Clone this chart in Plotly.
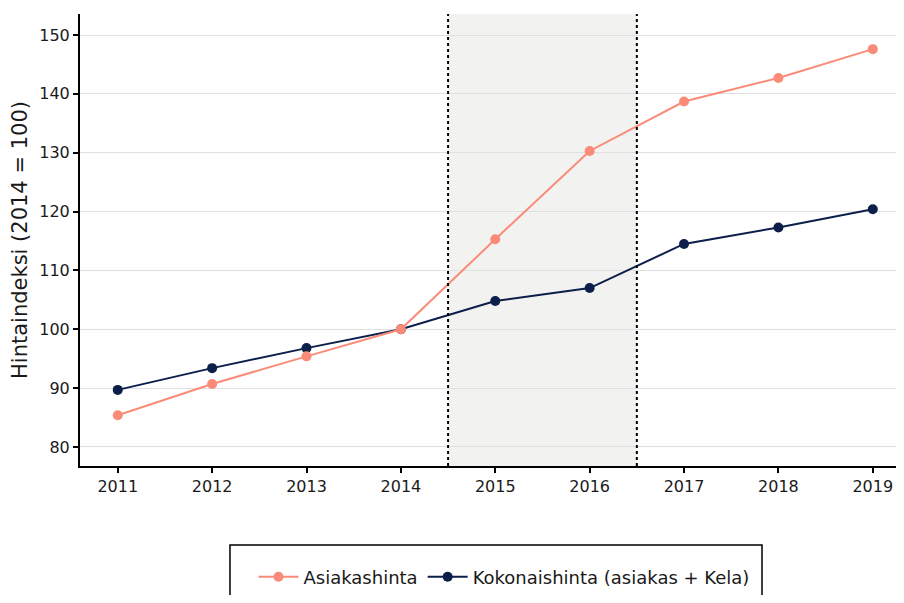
import plotly.graph_objects as go

years = [2011, 2012, 2013, 2014, 2015, 2016, 2017, 2018, 2019]
asiakashinta = [85.4, 90.7, 95.4, 100.0, 115.3, 130.3, 138.7, 142.7, 147.6]
kokonaishinta = [89.7, 93.4, 96.8, 100.0, 104.8, 107.0, 114.5, 117.3, 120.4]
series_names = ["Asiakashinta", "Kokonaishinta (asiakas + Kela)"]
y_ticks = [80, 90, 100, 110, 120, 130, 140, 150]
shade_start, shade_end = 2014.5, 2016.5

CORAL = "#FA8B78"
NAVY = "#0C1E4A"
FONT = "DejaVu Sans"

fig = go.Figure()
fig.add_trace(go.Scatter(
    x=years, y=kokonaishinta, name=series_names[1], mode="lines+markers",
    line=dict(color=NAVY, width=2), marker=dict(color=NAVY, size=10),
    legendrank=2))
fig.add_trace(go.Scatter(
    x=years, y=asiakashinta, name=series_names[0], mode="lines+markers",
    line=dict(color=CORAL, width=2), marker=dict(color=CORAL, size=10),
    legendrank=1))

fig.add_shape(type="rect", xref="x", yref="paper", x0=shade_start, x1=shade_end,
              y0=0, y1=1, fillcolor="#F2F2F0", line=dict(width=0), layer="below")
for xv in (shade_start, shade_end):
    fig.add_shape(type="line", xref="x", yref="paper", x0=xv, x1=xv, y0=0, y1=1,
                  line=dict(color="black", width=2, dash="dot"), layer="above")

# legend frame
fig.add_shape(type="rect", xref="paper", yref="paper", x0=0.1838, x1=0.8358,
              y0=-0.1748, y1=-0.34, line=dict(color="black", width=1.5),
              fillcolor="rgba(0,0,0,0)")

fig.update_layout(
    width=888, height=587,
    margin=dict(l=72, r=0, t=6, b=129, autoexpand=False),
    plot_bgcolor="white", paper_bgcolor="white",
    font=dict(family=FONT, size=16, color="#1a1a1a"),
    showlegend=True,
    legend=dict(orientation="h", x=0.5196, xanchor="center", y=-0.2456,
                yanchor="middle", font=dict(size=18, family=FONT), itemwidth=40,
                bgcolor="rgba(0,0,0,0)", traceorder="normal"),
    xaxis=dict(range=[2010.6, 2019.246], tickvals=years, ticktext=[str(y) for y in years],
               showgrid=False, zeroline=False, showline=True, linecolor="black",
               linewidth=2, ticks="outside", ticklen=5, tickwidth=1.5, tickcolor="black",
               tickfont=dict(size=16)),
    yaxis=dict(range=[76.77, 153.57], tickvals=y_ticks, showgrid=True,
               gridcolor="#E0E0E0", gridwidth=1, zeroline=False, showline=True,
               linecolor="black", linewidth=2, ticks="outside", ticklen=5,
               tickwidth=1.5, tickcolor="black", tickfont=dict(size=16),
               title=dict(text="Hintaindeksi (2014 = 100)", font=dict(size=21), standoff=8)),
)

fig.write_html("out.html")
